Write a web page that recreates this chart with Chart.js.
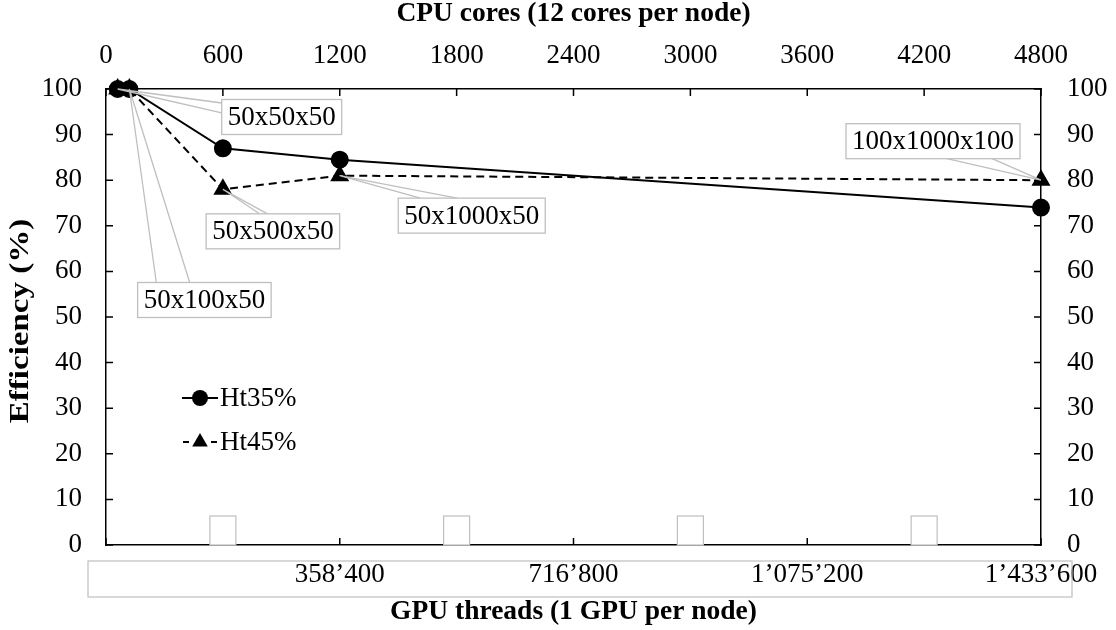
<!DOCTYPE html>
<html>
<head>
<meta charset="utf-8">
<script src="https://cdn.jsdelivr.net/npm/chart.js@4"></script>
<style>
  html, body { margin: 0; padding: 0; background: #fff; }
  #wrap { width: 1116px; height: 630px; }
</style>
</head>
<body>
<div id="wrap"><canvas id="effChart" width="1116" height="630"></canvas></div>
<script>
// data
const cpuCores = [60, 120, 600, 1200, 4800];
const ht35 = [100, 100, 87, 84.5, 74];
const ht45 = [100, 100, 78, 81, 80];
const seriesNames = ['Ht35%', 'Ht45%'];
const cpuTicks = [0, 600, 1200, 1800, 2400, 3000, 3600, 4200, 4800];
const gpuTickLabels = ['', '358’400', '716’800', '1’075’200', '1’433’600'];
const gridLabels = ['50x50x50', '50x100x50', '50x500x50', '50x1000x50', '100x1000x100'];
const emptyLabelAt = [600, 1800, 3000, 4200];

const serif = "'Liberation Serif', 'Times New Roman', serif";
const tickFont = { family: serif, size: 27 };
const titleFont = { family: serif, size: 27.5, weight: 'bold' };
const gray = '#bfbfbf';

// where each grid-size label sits, relative to the point it names
const labelLayout = [
  { series: 0, idx: 0, dx: 164, dy: 28, edge: 'left', at: [0.1, 0.38] },
  { series: 0, idx: 1, dx: 75, dy: 211, edge: 'top', at: [0.14, 0.39] },
  { series: 1, idx: 2, dx: 50, dy: 42, edge: 'top', at: [0.4, 0.46] },
  { series: 1, idx: 3, dx: 132, dy: 40, edge: 'top', at: [0.15, 0.4] },
  { series: 1, idx: 4, dx: -108, dy: -39, edge: 'bottom', at: [0.58, 0.84] },
];

const fixSize = (w, h) => (axis) => {
  if (w != null) axis.width = w;
  if (h != null) axis.height = h;
  axis.paddingLeft = axis.paddingRight = axis.paddingTop = axis.paddingBottom = 0;
};

const extras = {
  id: 'extras',
  beforeDatasetsDraw(chart) {
    const { ctx, chartArea: a, scales } = chart;
    ctx.save();
    ctx.strokeStyle = gray;
    ctx.lineWidth = 1.2;
    // frame round the gpu thread labels
    ctx.strokeRect(a.left - 18, a.bottom + 16, a.right - a.left + 49, 36);
    // empty label boxes sitting on the axis
    ctx.fillStyle = '#fff';
    emptyLabelAt.forEach(v => {
      const x = scales.x.getPixelForValue(v);
      ctx.fillRect(x - 13, a.bottom - 29, 26, 29);
      ctx.strokeRect(x - 13, a.bottom - 29, 26, 29);
    });
    // y axis title, drawn by hand because it is stretched along its length
    ctx.fillStyle = '#000';
    ctx.font = 'bold 27.5px ' + serif;
    ctx.textAlign = 'center';
    ctx.textBaseline = 'middle';
    ctx.translate(21, (a.top + a.bottom) / 2 + 4);
    ctx.rotate(-Math.PI / 2);
    ctx.scale(1.2, 1);
    ctx.fillText('Efficiency (%)', 0, 0);
    ctx.restore();
  },
  afterDatasetsDraw(chart) {
    const { ctx, chartArea: a, scales } = chart;
    ctx.save();
    // inward tick marks
    ctx.strokeStyle = '#000';
    ctx.lineWidth = 1.5;
    ctx.beginPath();
    scales.y.ticks.forEach(t => {
      const y = scales.y.getPixelForValue(t.value);
      ctx.moveTo(a.left, y); ctx.lineTo(a.left + 7, y);
      ctx.moveTo(a.right, y); ctx.lineTo(a.right - 7, y);
    });
    scales.x.ticks.forEach(t => {
      const x = scales.x.getPixelForValue(t.value);
      ctx.moveTo(x, a.top); ctx.lineTo(x, a.top + 7);
    });
    scales.x2.ticks.forEach(t => {
      const x = scales.x2.getPixelForValue(t.value);
      ctx.moveTo(x, a.bottom); ctx.lineTo(x, a.bottom - 7);
    });
    ctx.stroke();

    // grid-size callouts
    ctx.font = '27px ' + serif;
    ctx.textAlign = 'center';
    ctx.textBaseline = 'middle';
    labelLayout.forEach((l, i) => {
      const vals = l.series === 0 ? ht35 : ht45;
      const px = scales.x.getPixelForValue(cpuCores[l.idx]);
      const py = scales.y.getPixelForValue(vals[l.idx]);
      const w = ctx.measureText(gridLabels[i]).width + 12;
      const h = 35;
      const cx = px + l.dx, cy = py + l.dy;
      const bx = cx - w / 2, by = cy - h / 2;
      ctx.strokeStyle = gray;
      ctx.lineWidth = 1.3;
      ctx.beginPath();
      l.at.forEach(f => {
        let ex, ey;
        if (l.edge === 'left') { ex = bx; ey = by + f * h; }
        else if (l.edge === 'top') { ex = bx + f * w; ey = by; }
        else { ex = bx + f * w; ey = by + h; }
        ctx.moveTo(px, py); ctx.lineTo(ex, ey);
      });
      ctx.stroke();
      ctx.fillStyle = '#fff';
      ctx.fillRect(bx, by, w, h);
      ctx.strokeRect(bx, by, w, h);
      ctx.fillStyle = '#000';
      ctx.fillText(gridLabels[i], cx, cy + 1);
    });

    // legend inside the plot
    const lx = a.left + 94, ly = a.top + 309;
    ctx.strokeStyle = '#000';
    ctx.fillStyle = '#000';
    ctx.lineWidth = 2;
    ctx.beginPath();
    ctx.moveTo(lx - 18, ly); ctx.lineTo(lx + 18, ly);
    ctx.moveTo(lx - 17, ly + 44); ctx.lineTo(lx - 11, ly + 44);
    ctx.moveTo(lx + 11, ly + 44); ctx.lineTo(lx + 17, ly + 44);
    ctx.stroke();
    ctx.beginPath(); ctx.arc(lx, ly, 8, 0, Math.PI * 2); ctx.fill();
    ctx.beginPath();
    ctx.moveTo(lx, ly + 44 - 9); ctx.lineTo(lx + 7.8, ly + 44 + 4.5); ctx.lineTo(lx - 7.8, ly + 44 + 4.5);
    ctx.closePath(); ctx.fill();
    ctx.textAlign = 'left';
    ctx.fillText(seriesNames[0], lx + 20, ly + 1);
    ctx.fillText(seriesNames[1], lx + 20, ly + 45);
    ctx.restore();
  }
};

const ctx = document.getElementById('effChart').getContext('2d');
new Chart(ctx, {
  type: 'line',
  data: {
    datasets: [
      {
        label: seriesNames[0],
        data: cpuCores.map((c, i) => ({ x: c, y: ht35[i] })),
        borderColor: '#000', backgroundColor: '#000', borderWidth: 2,
        pointStyle: 'circle', pointRadius: 8, pointHoverRadius: 8,
        xAxisID: 'x', yAxisID: 'y', clip: false, tension: 0,
      },
      {
        label: seriesNames[1],
        data: cpuCores.map((c, i) => ({ x: c, y: ht45[i] })),
        borderColor: '#000', backgroundColor: '#000', borderWidth: 2, borderDash: [8, 5],
        pointStyle: 'triangle', pointRadius: 9, pointHoverRadius: 9,
        xAxisID: 'x', yAxisID: 'y', clip: false, tension: 0,
      },
    ],
  },
  options: {
    responsive: false,
    animation: false,
    events: [],
    layout: { padding: 0 },
    plugins: { legend: { display: false }, tooltip: { enabled: false } },
    scales: {
      x: {
        type: 'linear', position: 'top', min: 0, max: 4800,
        afterBuildTicks: (axis) => { axis.ticks = cpuTicks.map(v => ({ value: v })); },
        grid: { display: false, drawTicks: false },
        border: { color: '#000', width: 1.5 },
        ticks: { color: '#000', font: tickFont, padding: 17, maxRotation: 0, autoSkip: false,
                 callback: (v) => String(v) },
        title: { display: true, text: 'CPU cores (12 cores per node)', color: '#000', font: titleFont, padding: { top: -3, bottom: 0 } },
        afterFit: fixSize(null, 89),
      },
      x2: {
        type: 'linear', position: 'bottom', min: 0, max: 4800,
        afterBuildTicks: (axis) => { axis.ticks = gpuTickLabels.map((_, i) => ({ value: i * 1200 })); },
        grid: { display: false, drawTicks: false },
        border: { color: '#000', width: 1.5 },
        ticks: { color: '#000', font: tickFont, padding: 14, maxRotation: 0, autoSkip: false,
                 callback: (v) => gpuTickLabels[Math.round(v / 1200)] },
        title: { display: true, text: 'GPU threads (1 GPU per node)', color: '#000', font: titleFont, padding: { top: 0, bottom: 1.5 } },
        afterFit: fixSize(null, 85),
      },
      y: {
        type: 'linear', position: 'left', min: 0, max: 100,
        grid: { display: false, drawTicks: false },
        border: { color: '#000', width: 1.5 },
        ticks: { color: '#000', font: tickFont, padding: 24, stepSize: 10 },
        afterFit: fixSize(106, null),
      },
      y2: {
        type: 'linear', position: 'right', min: 0, max: 100,
        grid: { display: false, drawTicks: false },
        border: { color: '#000', width: 1.5 },
        ticks: { color: '#000', font: tickFont, padding: 26, stepSize: 10 },
        afterFit: fixSize(75, null),
      },
    },
  },
  plugins: [extras],
});
</script>
</body>
</html>
